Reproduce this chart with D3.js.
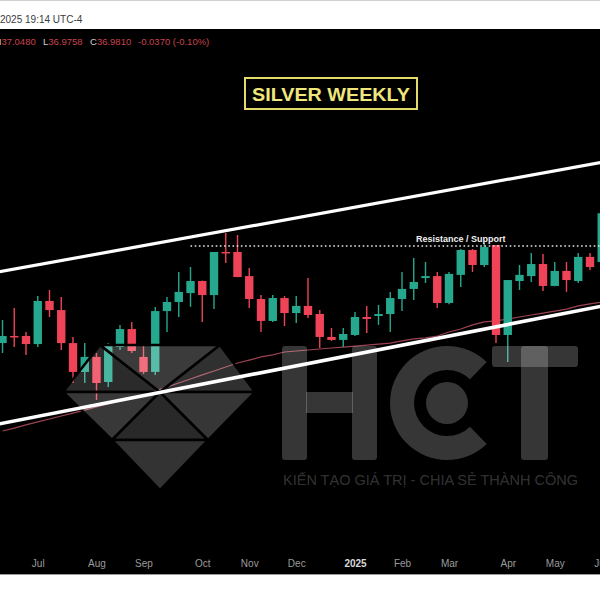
<!DOCTYPE html>
<html><head><meta charset="utf-8">
<script src="https://cdn.jsdelivr.net/npm/d3@7"></script>
<style>html,body{margin:0;padding:0;background:#fff;overflow:hidden}</style>
</head><body><svg id="c" width="600" height="600"></svg>
<script>
// ---- data (weekly candles, index 0 = week of Jun 10 2024) ----
const openP  = [29.33,29.69,29.69,29.28,31.46,31.00,29.33,27.87,28.63,27.36,29.13,30.04,28.63,27.87,30.95,31.41,31.86,32.47,31.76,33.94,33.94,32.72,31.56,30.45,31.61,30.85,31.21,30.80,29.64,29.49,29.74,30.65,30.70,30.80,31.56,32.07,32.62,32.72,31.36,32.78,34.04,33.28,34.29,29.74,32.47,32.72,33.33,32.22,32.98,32.47,33.69,33.43];
const highP  = [30.50,31.11,29.89,31.71,32.02,31.66,29.64,29.33,28.83,29.33,30.25,30.40,29.28,31.16,31.66,32.93,33.18,32.50,33.94,34.90,34.80,33.13,31.76,31.76,31.71,31.71,32.62,31.00,30.09,30.09,30.90,31.21,31.26,31.92,32.93,33.64,33.43,32.93,32.93,34.09,34.09,34.39,34.29,32.52,33.28,33.89,33.84,33.43,33.43,33.89,33.89,36.06];
const lowP   = [28.83,29.13,28.73,29.13,30.65,28.98,27.31,27.31,26.45,27.11,28.98,28.83,27.77,27.72,29.89,30.65,31.16,30.40,31.05,33.38,32.67,31.11,29.89,30.40,30.19,30.35,30.60,29.08,29.44,29.13,29.69,29.84,30.25,29.89,30.95,31.51,32.37,31.11,31.30,32.17,32.93,33.18,29.33,28.37,32.02,32.42,31.97,32.20,31.92,32.37,33.03,33.20];
const closeP = [29.69,29.64,29.28,31.46,31.00,29.33,27.87,28.63,27.31,29.18,30.04,28.93,27.87,30.95,31.41,31.92,32.47,31.76,33.94,33.90,32.67,31.56,30.45,31.61,30.85,31.21,30.75,29.64,29.49,29.79,30.65,30.55,30.80,31.61,32.07,32.42,32.72,31.36,32.83,34.04,33.28,34.19,29.74,32.52,32.78,33.33,32.22,32.98,32.52,33.69,33.18,35.90];
const maP    = [24.88,25.03,25.19,25.34,25.49,25.64,25.79,25.94,26.10,26.25,26.40,26.55,26.70,26.91,27.11,27.31,27.51,27.72,27.92,28.12,28.32,28.47,28.63,28.73,28.88,28.93,28.98,29.03,29.08,29.13,29.18,29.23,29.28,29.33,29.44,29.54,29.59,29.69,29.89,30.04,30.25,30.40,30.45,30.55,30.65,30.75,30.85,30.95,31.05,31.21,31.31,31.41];
const tickIndex  = [3,8,12,17,21,25,30,34,38,43,47,51];
const tickLabels = ["Jul","Aug","Sep","Oct","Nov","Dec","2025","Feb","Mar","Apr","May","Jun"];
const upperChannel = [[-0.3,32.93],[51.0,38.48]];
const lowerChannel = [[-0.3,25.24],[51.0,31.20]];
const resistance = {from:16, to:52, price:34.24, label:"Resistance / Support", labelAt:39};
const header = {date:"2025 19:14 UTC-4", H:"37.0480", L:"36.9758", C:"36.9810", chg:"-0.0370 (-0.10%)"};
const title = "SILVER WEEKLY";
const tagline = "KIẾN TẠO GIÁ TRỊ - CHIA SẺ THÀNH CÔNG";

const UP="#25a88e", DN="#ef4358";
const FONT="'Liberation Sans', Arial, sans-serif";

const svg = d3.select("#c");
svg.append("rect").attr("width",600).attr("height",600).attr("fill","#fff");
svg.append("line").attr("x1",0).attr("x2",600).attr("y1",0.5).attr("y2",0.5).attr("stroke","#d0d0d0");
svg.append("rect").attr("x",0).attr("y",29).attr("width",600).attr("height",545).attr("fill","#000");
svg.append("line").attr("x1",0).attr("x2",600).attr("y1",574.5).attr("y2",574.5).attr("stroke","#9a9a9a");

svg.append("text").attr("x",0).attr("y",23).attr("font-family",FONT).attr("font-size",10)
  .attr("fill","#3a3a3a").text(header.date);

const hdr = svg.append("g").attr("font-family",FONT).attr("font-size",9.5);
const seg = (xp, lab, val) => {
  const t = hdr.append("text").attr("x",xp).attr("y",45);
  t.append("tspan").attr("fill","#d0d0d0").text(lab);
  t.append("tspan").attr("fill","#c8434f").text(val);
};
seg(-5.5,"H",header.H); seg(43,"L",header.L); seg(90,"C",header.C);
hdr.append("text").attr("x",138).attr("y",45).attr("fill","#c8434f").text(header.chg);

const x = d3.scaleLinear().domain([0,51]).range([2.5,601.75]);
const y = d3.scaleLinear().domain([26.45,34.90]).range([400,233]);

svg.append("clipPath").attr("id","clip").append("rect").attr("x",0).attr("y",29).attr("width",600).attr("height",545);
const g = svg.append("g").attr("clip-path","url(#clip)");

// moving average
g.append("path").datum(maP).attr("fill","none").attr("stroke","#9c4352").attr("stroke-width",1.2)
  .attr("d", d3.line().x((d,i)=>x(i)).y(d=>y(d)));

// candles
const idx = d3.range(openP.length);
const col = i => closeP[i] >= openP[i] ? UP : DN;
g.selectAll("line.wick").data(idx).join("line").attr("class","wick")
  .attr("x1",i=>x(i)).attr("x2",i=>x(i)).attr("y1",i=>y(highP[i])).attr("y2",i=>y(lowP[i]))
  .attr("stroke",col).attr("stroke-width",1.4);
g.selectAll("rect.body").data(idx).join("rect").attr("class","body")
  .attr("x",i=>x(i)-4.2).attr("width",8.4)
  .attr("y",i=>y(Math.max(openP[i],closeP[i])))
  .attr("height",i=>Math.max(1.5, Math.abs(y(openP[i])-y(closeP[i]))))
  .attr("fill",col);

// watermark
const wm = g.append("g").attr("fill","#fff");
const tri = [
  [[[100,345],[160,392],[63,392]],0.17],
  [[[100,345],[220,345],[160,392]],0.23],
  [[[220,345],[255,392],[160,392]],0.19],
  [[[63,392],[160,392],[112,440]],0.22],
  [[[160,392],[208,440],[112,440]],0.16],
  [[[160,392],[255,392],[208,440]],0.21],
  [[[112,440],[208,440],[160,490]],0.2]
];
tri.forEach(([pts,op])=>{
  wm.append("path").attr("d","M"+pts.map(p=>p.join(",")).join("L")+"Z")
    .attr("fill-opacity",op).attr("stroke","#000").attr("stroke-width",2.5).attr("stroke-linejoin","miter");
});
const lw = wm.append("g").attr("fill-opacity",0.21);
lw.append("rect").attr("x",282).attr("y",346).attr("width",25).attr("height",114).attr("rx",3);
lw.append("rect").attr("x",352).attr("y",346).attr("width",25).attr("height",114).attr("rx",3);
lw.append("rect").attr("x",306).attr("y",392).attr("width",47).attr("height",21);
lw.append("path").attr("transform","translate(447,403)")
  .attr("d", d3.arc().innerRadius(33).outerRadius(57).startAngle(Math.PI/2+0.8).endAngle(Math.PI*2.5-0.8)());
lw.append("circle").attr("cx",447).attr("cy",403).attr("r",21);
lw.append("rect").attr("x",492).attr("y",346).attr("width",86).attr("height",21).attr("rx",3);
lw.append("rect").attr("x",521).attr("y",346).attr("width",27).attr("height",114).attr("rx",3);
wm.append("text").attr("x",283).attr("y",485).attr("font-family",FONT).attr("font-size",15)
  .attr("fill-opacity",0.21).attr("textLength",295).attr("lengthAdjust","spacingAndGlyphs").text(tagline);

// channel lines
const cl = d3.line().x(d=>x(d[0])).y(d=>y(d[1]));
g.append("path").datum(upperChannel).attr("d",cl).attr("stroke","#fff").attr("stroke-width",3.2).attr("fill","none");
g.append("path").datum(lowerChannel).attr("d",cl).attr("stroke","#fff").attr("stroke-width",3.6).attr("fill","none");

// resistance
g.append("line").attr("x1",x(resistance.from)).attr("x2",x(resistance.to))
  .attr("y1",y(resistance.price)).attr("y2",y(resistance.price))
  .attr("stroke","#e8e8e8").attr("stroke-width",1.6).attr("stroke-dasharray","1.6,2.6");
g.append("text").attr("x",x(resistance.labelAt)).attr("y",y(resistance.price)-4)
  .attr("text-anchor","middle").attr("font-family",FONT).attr("font-weight","bold").attr("font-size",9)
  .attr("fill","#f0f0f0").text(resistance.label);

// title
svg.append("rect").attr("x",245).attr("y",78).attr("width",172).attr("height",31)
  .attr("fill","none").attr("stroke","#e3da6c").attr("stroke-width",2);
svg.append("text").attr("x",252).attr("y",101).attr("font-family",FONT).attr("font-weight","bold")
  .attr("font-size",19).attr("fill","#efe67c").attr("textLength",158).attr("lengthAdjust","spacingAndGlyphs").text(title);

// x axis
const ax = svg.append("g").attr("transform","translate(0,557)")
  .call(d3.axisBottom(x).tickValues(tickIndex).tickFormat((d,i)=>tickLabels[i]).tickSize(0).tickPadding(3));
ax.select(".domain").remove();
ax.selectAll("text").attr("font-family",FONT).attr("font-size",10)
  .attr("fill",(d,i)=>tickLabels[i]==="2025" ? "#d8d8d8" : "#9b9b9b")
  .attr("font-weight",(d,i)=>tickLabels[i]==="2025" ? "bold" : "normal");
</script></body></html>
